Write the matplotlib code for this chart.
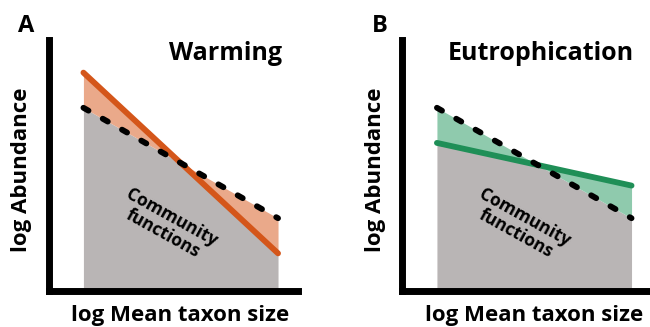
import numpy as np
import matplotlib.pyplot as plt

# size axis: start and end of the size spectrum (arbitrary log units)
size_range = [1.4, 9.2]
# baseline abundance-size relation (dashed), shared by both panels
baseline = [7.3, 2.9]
# shifted relations under each stressor
warming = [8.7, 1.5]
eutrophication = [5.9, 4.2]

panels = [
    ("A", "Warming", warming, "#d4561a", "#eaa98a", 7.1),
    ("B", "Eutrophication", eutrophication, "#1f8f57", "#8fcaad", 5.55),
]

plt.rcParams['font.family'] = ['Open Sans', 'DejaVu Sans']
plt.rcParams['font.weight'] = 'bold'

fig = plt.figure(figsize=(6.5, 3.27), dpi=100)
W, H = 650, 327
lefts = [48.5, 402]

for (letter, title, shifted, line_c, fill_c, title_x), left in zip(panels, lefts):
    ax = fig.add_axes([left / W, (H - 291) / H, 249.5 / W, 251 / H])
    ax.set_xlim(0, 10)
    ax.set_ylim(0, 10)
    for s in ['top', 'right']:
        ax.spines[s].set_visible(False)
    for s in ['left', 'bottom']:
        ax.spines[s].set_linewidth(5)
        ax.spines[s].set_capstyle('projecting')
    ax.set_xticks([])
    ax.set_yticks([])

    x = np.array(size_range)
    b = np.array(baseline)
    s = np.array(shifted)
    # fine grid so the crossing point is filled cleanly
    xx = np.linspace(x[0], x[1], 400)
    bb = np.interp(xx, x, b)
    ss = np.interp(xx, x, s)
    lo = np.minimum(bb, ss)
    hi = np.maximum(bb, ss)
    ax.fill_between(xx, 0, lo, color="#b9b5b5", lw=0)
    ax.fill_between(xx, lo, hi, color=fill_c, lw=0)

    ax.plot(x, s, color=line_c, lw=4.2, solid_capstyle='round')
    ax.plot(x, b, color='black', lw=4.2, dashes=(1.0, 2.8),
            dash_capstyle='round')

    ax.text(4.75, 2.6, "Community\nfunctions",
            rotation=-29, ha='center', va='center', fontsize=12.5,
            fontweight='bold', linespacing=0.95, rotation_mode='anchor')

    ax.text(title_x, 9.45, title, ha='center', va='center', fontsize=18,
            fontweight='bold')

    # axis titles and panel letters placed in figure pixels
    fig.text((left + 132) / W, 1 - 316 / H, "log Mean taxon size",
             ha='center', va='center', fontsize=16, fontweight='bold')
    fig.text((left - 26.5) / W, 1 - 170 / H, "log Abundance", rotation=90,
             ha='center', va='center', fontsize=16, fontweight='bold')
    fig.text((left - 22) / W, 1 - 26 / H, letter, ha='center', va='center',
             fontsize=17, fontweight='bold')

fig.savefig("out.png", dpi=100)
